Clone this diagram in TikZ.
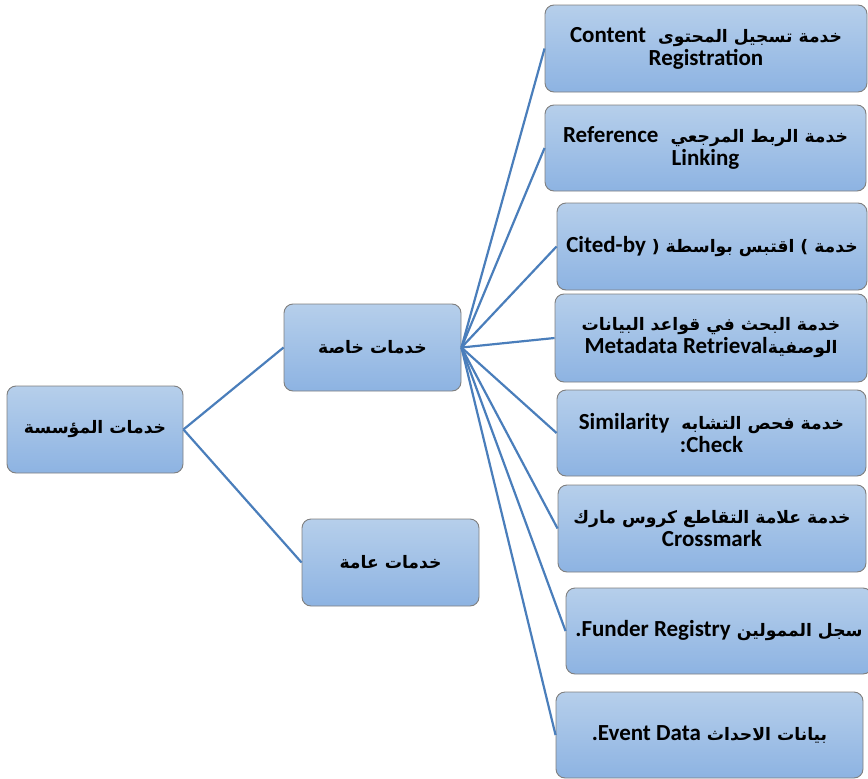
\documentclass[tikz,border=0pt]{standalone}
\usepackage{fontspec}
\TeXXeTstate=1
\newfontfamily\arabicfont[Script=Arabic]{DejaVu Sans}
\newfontfamily\latfont{Carlito}
\newcommand{\ar}{\arabicfont\bfseries\fontsize{17.2}{25}\selectfont}
\newcommand{\la}{\latfont\bfseries\fontsize{23}{26}\selectfont}
\definecolor{boxtop}{HTML}{B6CFEB}
\definecolor{boxbot}{HTML}{8DB3E2}
\definecolor{boxline}{HTML}{7F7F7F}
\definecolor{linkc}{HTML}{4A7EBB}
\tikzset{
  box/.style={draw=boxline, line width=0.9pt, rounded corners=9pt,
    top color=boxtop, bottom color=boxbot, align=center,
    inner sep=0pt, font=\la},
  link/.style={draw=linkc, line width=2.2pt}
}
\begin{document}
\begin{tikzpicture}[x=1pt,y=-1pt]
\useasboundingbox (0,0) rectangle (868,779);
% boxes
\node[box, minimum width=176pt, minimum height=87pt] (root) at (95,429.5)
  {\ar\beginR خدمات المؤسسة\endR};
\node[box, minimum width=177pt, minimum height=87pt] (priv) at (372.5,347.5)
  {\ar\beginR خدمات خاصة\endR};
\node[box, minimum width=177pt, minimum height=87pt] (pub) at (390.5,562.5)
  {\ar\beginR خدمات عامة\endR};

\node[box, minimum width=322pt, minimum height=87pt] (r1) at (706,48.5)
  {\ar\beginR خدمة تسجيل المحتوى\ \ \beginL\la Content\endL\endR\\[-3pt] Registration};
\node[box, minimum width=321pt, minimum height=86pt] (r2) at (705.5,148)
  {\ar\beginR خدمة الربط المرجعي\ \ \beginL\la Reference\endL\endR\\[-3pt] Linking};
\node[box, minimum width=310pt, minimum height=87pt] (r3) at (712,246.5)
  {\ar\beginR خدمة ) اقتبس بواسطة ( \beginL\la Cited-by\endL\endR};
\node[box, minimum width=312pt, minimum height=88pt] (r4) at (711,338)
  {\ar\beginR خدمة البحث في قواعد البيانات\endR\\[-3pt]
   \ar\beginR الوصفية\beginL\la Metadata Retrieval\endL\endR};
\node[box, minimum width=309pt, minimum height=86pt] (r5) at (711.5,433)
  {\ar\beginR خدمة فحص التشابه\ \ \beginL\la Similarity\endL\endR\\[-3pt] :Check};
\node[box, minimum width=308pt, minimum height=87pt] (r6) at (712,528.5)
  {\ar\beginR خدمة علامة التقاطع كروس مارك\endR\\[-3pt] Crossmark};
\node[box, minimum width=306pt, minimum height=86pt] (r7) at (719,631)
  {\ar\beginR سجل الممولين \beginL\la Funder Registry\endL\la.\endR};
\node[box, minimum width=307pt, minimum height=86pt] (r8) at (709.5,735)
  {\ar\beginR بيانات الاحداث \beginL\la Event Data\endL\la.\endR};

% connectors
\draw[link] (root.east) -- (priv.west);
\draw[link] (root.east) -- (pub.west);
\foreach \i in {1,...,8} {
  \draw[link] (priv.east) -- (r\i.west);
}
\end{tikzpicture}
\end{document}
